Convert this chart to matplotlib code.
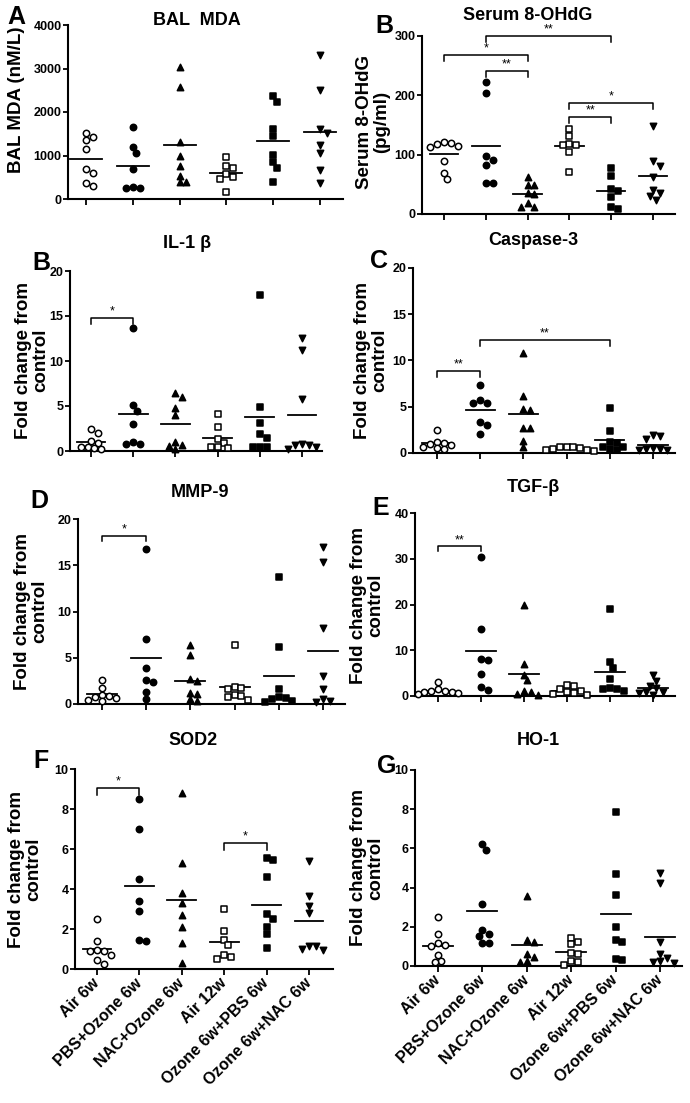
import numpy as np
import matplotlib.pyplot as plt

plt.rcParams['font.family'] = ['Liberation Sans', 'DejaVu Sans']
plt.rcParams['font.weight'] = 'bold'

groups = ['Air 6w', 'PBS+Ozone 6w', 'NAC+Ozone 6w', 'Air 12w',
          'Ozone 6w+PBS 6w', 'Ozone 6w+NAC 6w']

# values, one list per group
bal_mda = [
    [1515, 1423, 1362, 1154, 685, 608, 377, 300],
    [1646, 1192, 1054, 692, 285, 246, 246],
    [3031, 2569, 1308, 1000, 762, 538, 385, 385],
    [977, 769, 708, 577, 515, 462, 169],
    [2362, 2231, 1615, 1438, 1015, 846, 723, 400],
    [3308, 2515, 1615, 1515, 1231, 1054, 669, 377],
]
serum_ohdg = [
    [122, 120, 118, 115, 113, 89, 69, 59],
    [223, 204, 97, 91, 82, 52, 52],
    [62, 49, 49, 36, 33, 18, 11, 11],
    [143, 131, 118, 117, 116, 104, 71],
    [77, 64, 42, 38, 28, 12, 8],
    [149, 89, 81, 63, 41, 36, 31, 23],
]
il1b = [
    [2.4, 2.0, 1.1, 0.9, 0.5, 0.4, 0.3, 0.2],
    [13.7, 5.1, 4.5, 3.0, 1.0, 0.8, 0.8],
    [6.5, 6.0, 4.8, 4.0, 1.0, 0.7, 0.6, 0.2],
    [4.1, 2.7, 1.3, 0.9, 0.5, 0.4, 0.3],
    [17.3, 4.9, 3.1, 1.9, 1.4, 0.5, 0.5, 0.4],
    [12.6, 11.2, 5.8, 0.8, 0.7, 0.7, 0.4, 0.2],
]
caspase3 = [
    [2.45, 1.2, 1.1, 1.0, 0.9, 0.7, 0.5, 0.4],
    [7.3, 5.7, 5.4, 5.4, 3.3, 3.0, 2.1],
    [10.8, 6.2, 4.8, 4.7, 2.7, 2.7, 1.3, 0.6],
    [0.7, 0.6, 0.6, 0.5, 0.4, 0.3, 0.3, 0.2],
    [4.9, 2.4, 1.2, 1.1, 0.65, 0.6, 0.4, 0.35],
    [1.9, 1.8, 1.5, 0.5, 0.4, 0.4, 0.3, 0.3],
]
mmp9 = [
    [2.6, 1.7, 1.0, 0.9, 0.8, 0.6, 0.4, 0.3],
    [16.8, 7.0, 3.9, 2.6, 2.4, 1.3, 0.5],
    [6.4, 5.3, 2.7, 2.5, 1.2, 1.1, 0.5, 0.3],
    [6.4, 1.8, 1.7, 1.6, 1.0, 0.9, 0.8, 0.4],
    [13.7, 6.2, 1.6, 0.8, 0.6, 0.5, 0.3, 0.2],
    [17.0, 15.3, 8.2, 3.0, 1.6, 0.5, 0.3, 0.2],
]
tgfb = [
    [3.0, 1.6, 1.2, 1.0, 0.9, 0.8, 0.6, 0.5],
    [30.4, 14.7, 8.0, 7.8, 4.8, 1.9, 1.3],
    [20.0, 7.1, 4.6, 3.4, 1.2, 0.8, 0.5, 0.3],
    [2.3, 2.1, 1.5, 1.0, 0.8, 0.6, 0.5, 0.3],
    [19.1, 7.5, 6.2, 3.8, 1.8, 1.6, 1.5, 1.2],
    [4.5, 3.2, 2.2, 1.8, 0.9, 0.8, 0.7, 0.3],
]
sod2 = [
    [2.5, 1.4, 0.95, 0.9, 0.9, 0.7, 0.45, 0.25],
    [8.5, 7.0, 4.5, 3.4, 2.9, 1.45, 1.4],
    [8.8, 5.3, 3.8, 3.3, 2.7, 2.1, 1.3, 0.3],
    [3.0, 1.9, 1.46, 1.18, 0.69, 0.6, 0.48],
    [5.55, 5.45, 4.6, 2.75, 2.5, 2.1, 1.75, 1.05],
    [5.4, 3.65, 3.15, 2.8, 1.15, 1.15, 1.0, 0.95],
]
ho1 = [
    [2.5, 1.65, 1.15, 1.05, 1.0, 0.55, 0.25, 0.2],
    [6.2, 5.9, 3.15, 1.85, 1.65, 1.55, 1.15, 1.15],
    [3.55, 1.35, 1.2, 0.6, 0.45, 0.25, 0.2],
    [1.45, 1.25, 1.1, 0.65, 0.6, 0.25, 0.2, 0.05],
    [7.85, 4.7, 3.6, 2.0, 1.35, 1.2, 0.35, 0.3],
    [4.75, 4.25, 1.2, 0.6, 0.4, 0.25, 0.2, 0.15],
]

# significance brackets: (group a, group b, height, label)
serum_sig = [(1, 4, 300, '**'), (0, 2, 268, '*'), (1, 2, 241, '**'),
             (3, 5, 187, '*'), (3, 4, 163, '**')]
il1b_sig = [(0, 1, 14.8, '*')]
caspase_sig = [(0, 1, 8.85, '**'), (1, 4, 12.2, '**')]
mmp9_sig = [(0, 1, 18.2, '*')]
tgfb_sig = [(0, 1, 32.7, '**')]
sod2_sig = [(0, 1, 9.05, '*'), (3, 4, 6.3, '*')]

styles = [('o', 'white'), ('o', 'black'), ('^', 'black'),
          ('s', 'white'), ('s', 'black'), ('v', 'black')]

W, H = 690, 1103
fig = plt.figure(figsize=(W / 100, H / 100), dpi=100)


def fx(px):
    return px / W


def fy(py):
    return 1 - py / H


def swarm(vals, center, sp, ppu, d=6.2):
    # simple beeswarm: push overlapping points sideways
    placed = []
    xs = []
    cands = [0]
    for k in range(1, 12):
        cands += [k * 3.4, -k * 3.4]
    for v in vals:
        yp = v * ppu
        for c in cands:
            if all((c - px) ** 2 + (yp - py) ** 2 >= d * d for px, py in placed):
                break
        placed.append((c, yp))
        xs.append(center + c / sp)
    return xs


def draw_panel(data, ymax, ystep, geom, title, title_y, letter, letter_xy,
               ylabel, ylabel_xy, sig=(), leg=0.0, xlabels=False):
    ax_x, right, y0, ytop, g0, sp = geom
    ax = fig.add_axes([fx(ax_x), fy(y0), (right - ax_x) / W, (y0 - ytop) / H])
    ax.set_xlim((ax_x - g0) / sp, (right - g0) / sp)
    ax.set_ylim(0, ymax)
    ppu = (y0 - ytop) / ymax
    for i, vals in enumerate(data):
        m, fc = styles[i]
        xs = swarm(vals, i, sp, ppu)
        size = 16 if m == 's' else 21
        ax.scatter(xs, vals, s=size, marker=m, facecolors=fc, edgecolors='black',
                   linewidths=1.1, zorder=3, clip_on=False)
        mean = np.mean(vals)
        ax.plot([i - 0.34, i + 0.34], [mean, mean], color='black', lw=1.3, zorder=2)
    for a, b, y, lab in sig:
        ax.plot([a, a, b, b], [y - leg, y, y, y - leg], color='black', lw=1.1,
                clip_on=False)
        ax.annotate(lab, xy=((a + b) / 2, y), xytext=(0, 0.3),
                    textcoords='offset points', ha='center', va='bottom',
                    fontsize=9, fontweight='normal')
    for s in ['top', 'right']:
        ax.spines[s].set_visible(False)
    for s in ['left', 'bottom']:
        ax.spines[s].set_linewidth(1.5)
    ticks = np.arange(0, ymax + ystep / 2, ystep)
    ax.set_yticks(ticks)
    ax.set_yticklabels([str(int(t)) for t in ticks])
    ax.set_xticks(range(len(groups)))
    ax.tick_params(axis='y', length=3.5, width=1.3, pad=1.2, labelsize=9)
    ax.tick_params(axis='x', length=4.5, width=1.3, pad=4)
    if xlabels:
        ax.set_xticklabels(groups, rotation=45, ha='right', va='center',
                           rotation_mode='anchor', fontsize=11.5)
    else:
        ax.set_xticklabels([])
    fig.text(fx(title[1]), fy(title_y), title[0], ha='center', va='baseline',
             fontsize=13)
    fig.text(fx(letter_xy[0]), fy(letter_xy[1]), letter, ha='left', va='baseline',
             fontsize=18)
    fig.text(fx(ylabel_xy[0]), fy(ylabel_xy[1]), ylabel, rotation=90,
             ha='center', va='center', fontsize=13.5, multialignment='center',
             linespacing=1.05)
    return ax


fold = 'Fold change from\ncontrol'

draw_panel(bal_mda, 4000, 1000, (68, 343, 199, 25, 86, 46.8),
           ('BAL  MDA', 197), 25, 'A', (7, 24),
           'BAL MDA (nM/L)', (17, 100))
draw_panel(serum_ohdg, 300, 100, (422, 675, 214, 36, 444, 41.8),
           ('Serum 8-OHdG', 528), 20, 'B', (375, 33),
           'Serum 8-OHdG\n(pg/ml)', (373, 122), serum_sig, 10)
draw_panel(il1b, 20, 5, (70, 322, 451, 271, 91, 42.2),
           ('IL-1 \u03b2', 187), 248, 'B', (32, 270),
           fold, (32, 360), il1b_sig, 0.7)
draw_panel(caspase3, 20, 5, (413, 675, 453, 268, 437, 43.2),
           ('Caspase-3', 533), 245, 'C', (370, 268),
           fold, (371, 360), caspase_sig, 0.65)
draw_panel(mmp9, 20, 5, (78, 345, 704, 519, 102, 44.2),
           ('MMP-9', 200), 497, 'D', (30, 508),
           fold, (31, 611), mmp9_sig, 0.6)
draw_panel(tgfb, 40, 10, (415, 675, 696, 513, 438, 43),
           ('TGF-\u03b2', 533), 492, 'E', (372, 515),
           fold, (367, 605), tgfb_sig, 1.1)
draw_panel(sod2, 10, 2, (75, 333, 969, 769, 97, 42.4),
           ('SOD2', 193), 745, 'F', (33, 768),
           fold, (25, 869), sod2_sig, 0.33, xlabels=True)
draw_panel(ho1, 10, 2, (415, 682, 966, 770, 438, 44.4),
           ('HO-1', 538), 745, 'G', (377, 773),
           fold, (367, 868), xlabels=True)

fig.savefig('out.png', dpi=100, facecolor='white')
